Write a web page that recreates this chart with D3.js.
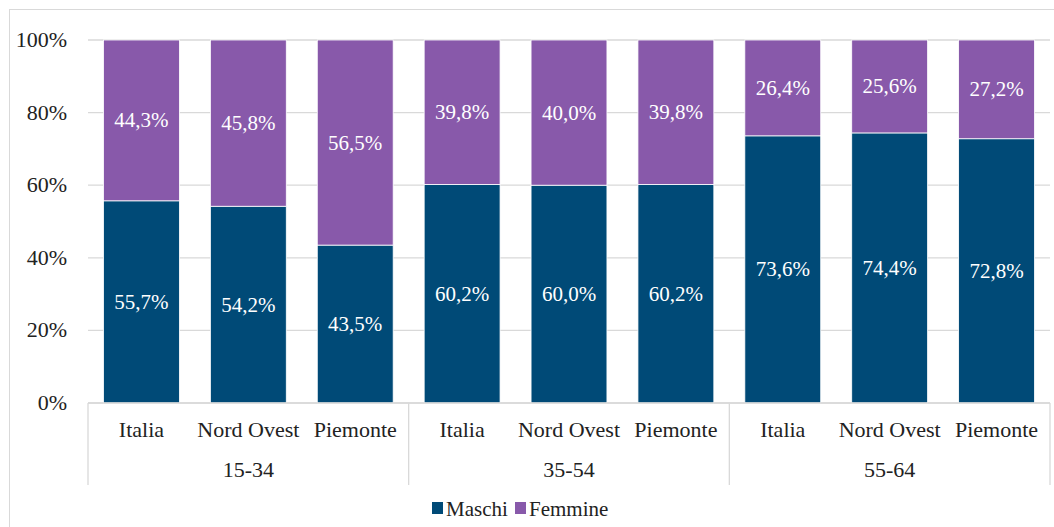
<!DOCTYPE html>
<html>
<head>
<meta charset="utf-8">
<script src="https://cdn.jsdelivr.net/npm/d3@7"></script>
<style>
  body { margin: 0; background: #fff; }
</style>
</head>
<body>
<svg id="chart" width="1054" height="527"></svg>
<script>
const groups = ['15-34', '35-54', '55-64']
const areas = ['Italia', 'Nord Ovest', 'Piemonte']
const series = ['Maschi', 'Femmine']
// values per group, per area
const maschi = [55.7, 54.2, 43.5, 60.2, 60.0, 60.2, 73.6, 74.4, 72.8]
const femmine = [44.3, 45.8, 56.5, 39.8, 40.0, 39.8, 26.4, 25.6, 27.2]
const yTicks = [0, 20, 40, 60, 80, 100]

const colors = { Maschi: '#004a77', Femmine: '#8859aa' }
const FONT = '"Liberation Serif"'

const svg = d3.select('#chart')
const W = 1054, H = 527
const x0 = 88, x1 = 1050
const y = d3.scaleLinear().domain([0, 100]).range([403, 40])

// helper so every label gets the serif face
const serif = sel => sel
  .attr('font-family', 'Liberation Serif')
  .style('font-family', FONT, 'important')

// outer frame
svg.append('rect')
  .attr('x', 9.5).attr('y', 9.5)
  .attr('width', W).attr('height', H)
  .attr('fill', 'none').attr('stroke', '#d9d9d9')

const cats = []
groups.forEach((g, gi) => areas.forEach((a, ai) => cats.push({ key: g + '|' + a, group: g, area: a, i: gi * 3 + ai })))

const x = d3.scaleBand()
  .domain(cats.map(d => d.key))
  .range([x0, x1])
  .paddingInner(0.29)
  .paddingOuter(0.145)

// gridlines
svg.append('g').selectAll('line')
  .data(yTicks).enter()
  .append('line')
  .attr('x1', x0).attr('x2', x1)
  .attr('y1', d => y(d)).attr('y2', d => y(d))
  .attr('stroke', '#d9d9d9').attr('stroke-width', 1.3)

// y labels
svg.append('g').selectAll('text')
  .data(yTicks).enter()
  .append('text')
  .call(serif)
  .attr('x', 67).attr('y', d => y(d) + 7)
  .attr('text-anchor', 'end')
  .attr('font-size', 22)
  .attr('fill', '#222')
  .text(d => d + '%')

// stacked bars
const rows = cats.map(c => ({ key: c.key, Maschi: maschi[c.i], Femmine: femmine[c.i] }))
const stacked = d3.stack().keys(series)(rows)

const fmt = v => v.toFixed(1).replace('.', ',') + '%'

stacked.forEach(layer => {
  const g = svg.append('g').attr('class', 'layer')
  g.selectAll('rect')
    .data(layer).enter()
    .append('rect')
    .attr('x', d => x(d.data.key))
    .attr('width', x.bandwidth())
    .attr('y', d => y(d[1]))
    .attr('height', d => y(d[0]) - y(d[1]))
    .attr('fill', colors[layer.key])
    .attr('stroke', '#fff').attr('stroke-width', 0.8)
  g.selectAll('text')
    .data(layer).enter()
    .append('text')
    .call(serif)
    .attr('x', d => x(d.data.key) + x.bandwidth() / 2)
    .attr('y', d => (y(d[0]) + y(d[1])) / 2 + 7)
    .attr('text-anchor', 'middle')
    .attr('font-size', 21)
    .attr('fill', '#fff')
    .text(d => fmt(d.data[layer.key]))
})

// category axis
const axis = svg.append('g').attr('stroke', '#d9d9d9').attr('stroke-width', 1.3)
axis.append('line').attr('x1', x0).attr('x2', x1).attr('y1', y(0)).attr('y2', y(0))
const step = x.step()
const sepX = d3.range(0, groups.length + 1).map(i => x0 + i * 3 * step)
axis.selectAll('.sep')
  .data(sepX).enter()
  .append('line')
  .attr('x1', d => d).attr('x2', d => d)
  .attr('y1', y(0)).attr('y2', 485)

svg.append('g').selectAll('text')
  .data(cats).enter()
  .append('text')
  .call(serif)
  .attr('x', d => x(d.key) + x.bandwidth() / 2)
  .attr('y', 437)
  .attr('text-anchor', 'middle')
  .attr('font-size', 22)
  .attr('fill', '#222')
  .text(d => d.area)

svg.append('g').selectAll('text')
  .data(groups).enter()
  .append('text')
  .call(serif)
  .attr('x', (d, i) => (sepX[i] + sepX[i + 1]) / 2)
  .attr('y', 477)
  .attr('text-anchor', 'middle')
  .attr('font-size', 22)
  .attr('fill', '#222')
  .text(d => d)

// legend
const legend = svg.append('g')
const legX = [432, 515]
series.forEach((s, i) => {
  legend.append('rect')
    .attr('x', legX[i]).attr('y', 502)
    .attr('width', 11).attr('height', 12)
    .attr('fill', colors[s])
  legend.append('text')
    .call(serif)
    .attr('x', legX[i] + 14).attr('y', 516)
    .attr('font-size', 21)
    .attr('fill', '#222')
    .text(s)
})
</script>
</body>
</html>
